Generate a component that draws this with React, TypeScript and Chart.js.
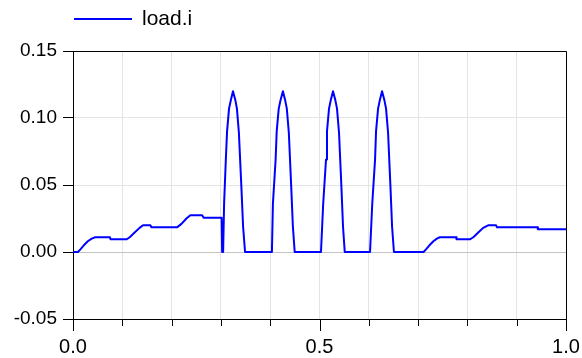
import React, { useEffect, useRef } from "react";
import { Chart, registerables } from "chart.js";

Chart.register(...registerables);

const seriesName = "load.i";

const times: number[] = [
  0, 0.010, 0.015, 0.022, 0.030, 0.038, 0.045, 0.075, 0.076, 0.109, 0.115, 0.125, 0.135, 0.142, 0.157, 0.159,
  0.211, 0.220, 0.230, 0.238, 0.262, 0.265, 0.3015, 0.3025, 0.3040,
  0.3045, 0.3065, 0.3100, 0.3125, 0.3165, 0.3200, 0.3245, 0.3295, 0.3325, 0.3365, 0.3415, 0.3450, 0.3490,
  0.4035, 0.4055, 0.4110, 0.4132, 0.4173, 0.4208, 0.4258, 0.4305, 0.4337, 0.4378, 0.4426, 0.4460, 0.4497,
  0.5030, 0.5075, 0.5132, 0.5152, 0.5193, 0.5227, 0.5274, 0.5323, 0.5355, 0.5396, 0.5444, 0.5477, 0.5512,
  0.6025, 0.6070, 0.6127, 0.6147, 0.6188, 0.6222, 0.6269, 0.6318, 0.6350, 0.6391, 0.6439, 0.6472, 0.6510,
  0.711, 0.716, 0.723, 0.731, 0.738, 0.744, 0.777, 0.778, 0.805, 0.812, 0.822, 0.832, 0.843, 0.858, 0.860,
  0.942, 0.943, 1.0,
];

const current: number[] = [
  0, 0, 0.002, 0.005, 0.008, 0.010, 0.011, 0.011, 0.0095, 0.0095, 0.011, 0.0145, 0.018, 0.020, 0.020, 0.0184,
  0.0184, 0.021, 0.025, 0.0274, 0.0274, 0.0256, 0.0256, 0, 0,
  0, 0.036, 0.069, 0.090, 0.107, 0.113, 0.120, 0.113, 0.107, 0.089, 0.049, 0.019, 0,
  0, 0.036, 0.069, 0.090, 0.107, 0.113, 0.120, 0.113, 0.107, 0.089, 0.049, 0.019, 0,
  0, 0.036, 0.069, 0.090, 0.107, 0.113, 0.120, 0.113, 0.107, 0.089, 0.049, 0.019, 0,
  0, 0.036, 0.069, 0.090, 0.107, 0.113, 0.120, 0.113, 0.107, 0.089, 0.049, 0.019, 0,
  0, 0.002, 0.005, 0.008, 0.010, 0.011, 0.011, 0.0095, 0.0095, 0.011, 0.0145, 0.018, 0.020, 0.020, 0.0184,
  0.0184, 0.0169, 0.0169,
];

const xLabels: number[] = [0, 0.5, 1.0];
const yTicks: number[] = [-0.05, 0, 0.05, 0.1, 0.15];

const FONT = "'Liberation Sans', Arial, Helvetica, sans-serif";
const LINE_COLOR = "#0000ff";

const framePlugin = {
  id: "frameAndLegend",
  afterDraw(chart: any) {
    const { ctx, chartArea } = chart;
    const xs = chart.scales.x;
    ctx.save();
    ctx.strokeStyle = "#000";
    ctx.lineWidth = 1;
    ctx.beginPath();
    ctx.moveTo(Math.round(chartArea.left) + 0.5, Math.round(chartArea.top) + 0.5);
    ctx.lineTo(Math.round(chartArea.right) + 0.5, Math.round(chartArea.top) + 0.5);
    ctx.lineTo(Math.round(chartArea.right) + 0.5, Math.round(chartArea.bottom) + 0.5);
    ctx.stroke();
    xs.ticks.forEach((t: any) => {
      const px = Math.round(xs.getPixelForValue(t.value)) + 0.5;
      const major = xLabels.some((v) => Math.abs(v - t.value) < 1e-6);
      const len = major ? 12 : 7;
      ctx.beginPath();
      ctx.moveTo(px, chartArea.bottom);
      ctx.lineTo(px, chartArea.bottom + len);
      ctx.stroke();
    });
    ctx.strokeStyle = LINE_COLOR;
    ctx.lineWidth = 2;
    ctx.beginPath();
    ctx.moveTo(74, 19);
    ctx.lineTo(132, 19);
    ctx.stroke();
    ctx.fillStyle = "#000";
    ctx.font = `21px ${FONT}`;
    ctx.textBaseline = "middle";
    ctx.textAlign = "left";
    ctx.fillText(seriesName, 142, 19);
    ctx.restore();
  },
};

export default function App() {
  const ref = useRef<HTMLCanvasElement | null>(null);
  useEffect(() => {
    document.body.style.margin = "0";
    const canvas = ref.current;
    if (!canvas) return;
    const chart = new Chart(canvas, {
      type: "line",
      data: {
        datasets: [
          {
            label: seriesName,
            data: times.map((t, i) => ({ x: t, y: current[i] })),
            borderColor: LINE_COLOR,
            borderWidth: 2,
            borderJoinStyle: "round",
            pointRadius: 0,
            fill: false,
            tension: 0,
          },
        ],
      },
      options: {
        animation: false,
        responsive: false,
        maintainAspectRatio: false,
        layout: { padding: { left: 0, right: 16, top: 51, bottom: 0 } },
        plugins: { legend: { display: false }, tooltip: { enabled: false } },
        scales: {
          x: {
            type: "linear",
            min: 0,
            max: 1,
            afterFit(scale: any) {
              scale.height = 39;
              scale.paddingLeft = 0;
              scale.paddingRight = 0;
            },
            afterBuildTicks(scale: any) {
              const ticks = [];
              for (let i = 0; i <= 10; i++) ticks.push({ value: i / 10 });
              scale.ticks = ticks;
            },
            ticks: {
              autoSkip: false,
              maxRotation: 0,
              padding: 16,
              color: "#000",
              font: { family: FONT, size: 20 },
              callback: (v: any) => {
                const n = Number(v);
                return xLabels.some((l) => Math.abs(l - n) < 1e-6) ? n.toFixed(1) : "";
              },
            },
            grid: { color: "#e4e4e4", lineWidth: 1, drawTicks: false },
            border: { display: true, color: "#000", width: 1 },
          },
          y: {
            type: "linear",
            min: -0.05,
            max: 0.15,
            afterFit(scale: any) {
              scale.width = 73;
              scale.paddingTop = 0;
              scale.paddingBottom = 0;
            },
            afterBuildTicks(scale: any) {
              scale.ticks = yTicks.map((v) => ({ value: v }));
            },
            ticks: {
              padding: 6,
              color: "#000",
              font: { family: FONT, size: 19 },
              callback: (v: any) => Number(v).toFixed(2),
            },
            grid: {
              color: (c: any) => (c.tick && Math.abs(c.tick.value) < 1e-9 ? "#c4c4c4" : "#e4e4e4"),
              tickColor: "#000",
              tickLength: 10,
              lineWidth: 1,
            },
            border: { display: true, color: "#000", width: 1 },
          },
        },
      },
      plugins: [framePlugin],
    });
    return () => chart.destroy();
  }, []);
  return (
    <div style={{ width: 582, height: 358 }}>
      <canvas ref={ref} width={582} height={358} style={{ width: 582, height: 358, display: "block" }} />
    </div>
  );
}
